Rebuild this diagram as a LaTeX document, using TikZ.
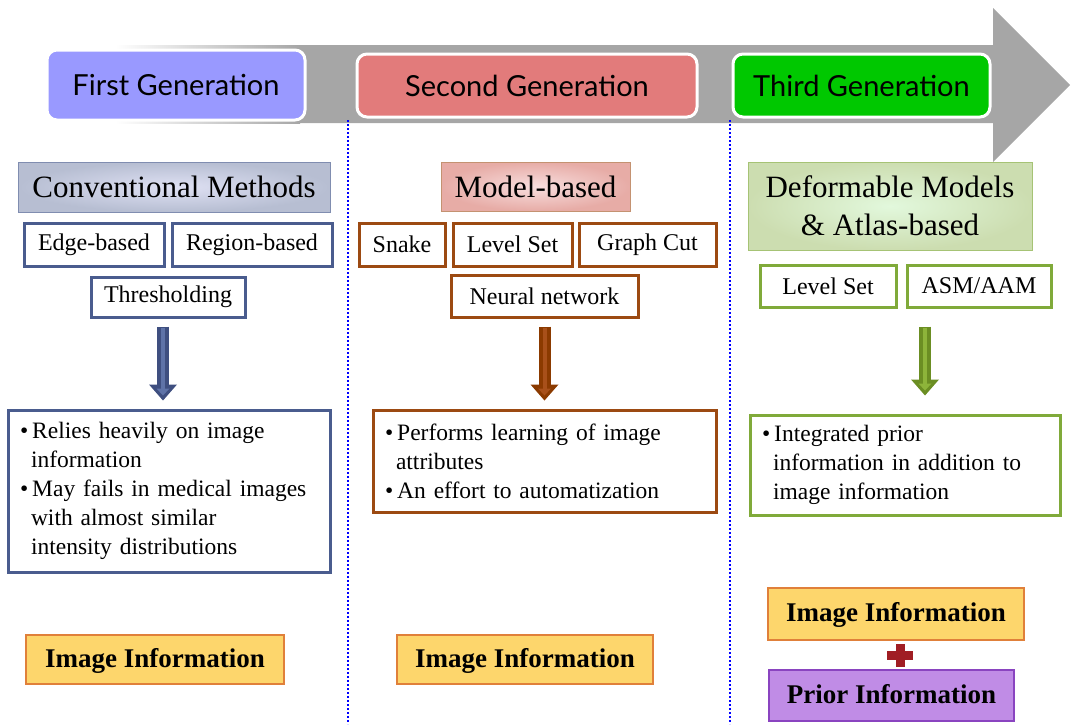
\documentclass[tikz,border=0pt]{standalone}
\usepackage{fontspec}
\setmainfont{Liberation Serif}
\newfontfamily\gensans{Lato}
\usetikzlibrary{arrows.meta, positioning}

\definecolor{arrowgray}{HTML}{A6A6A6}
\definecolor{genone}{HTML}{9999FF}
\definecolor{gentwo}{HTML}{E27B7B}
\definecolor{genthree}{HTML}{00C800}
\definecolor{blueline}{HTML}{4A5C8E}
\definecolor{bluedark}{HTML}{3F4F80}
\definecolor{bluelight}{HTML}{5F73A8}
\definecolor{brownline}{HTML}{9C4A12}
\definecolor{browndark}{HTML}{8B3A00}
\definecolor{brownlight}{HTML}{A8501A}
\definecolor{greenline}{HTML}{80AA3A}
\definecolor{greendark}{HTML}{6B8E23}
\definecolor{greenlight}{HTML}{8DB43A}
\definecolor{infofill}{HTML}{FDD66C}
\definecolor{infodraw}{HTML}{E0803A}
\definecolor{priorfill}{HTML}{C08CE6}
\definecolor{priordraw}{HTML}{8A44C0}
\definecolor{plusred}{HTML}{A01E24}

\begin{document}
\begin{tikzpicture}[
    x=1pt, y=-1pt,
    genbox/.style={rectangle, rounded corners=10pt, draw=white, line width=3pt, inner sep=0pt, font=\gensans\fontsize{29}{34}\selectfont},
    headbox/.style={rectangle, line width=0.8pt, align=center, inner sep=0pt, font=\fontsize{31}{38}\selectfont},
    methodbox/.style={rectangle, draw, fill=white, line width=3pt, minimum height=43pt, inner sep=0pt, font=\fontsize{24}{28}\selectfont},
    notebox/.style={rectangle, draw, fill=white, line width=3pt, align=left, inner xsep=12pt, inner ysep=0pt, font=\fontsize{23.5}{29}\selectfont},
    infobox/.style={rectangle, draw=infodraw, fill=infofill, line width=2.5pt, minimum height=49pt, inner sep=0pt, text depth=4pt, font=\bfseries\fontsize{27}{30}\selectfont},
    fatarrow/.style={line width=12pt, shorten <=8pt, shorten >=8pt, -{Triangle[width=28pt,length=16pt,line width=0pt]}},
    fatinner/.style={line width=4pt, shorten <=9pt, shorten >=13pt, -{Triangle[width=13pt,length=7pt,line width=0pt]}},
    sepline/.style={blue, line width=2pt, dash pattern=on 2pt off 2pt},
]
    \useasboundingbox (0,0) rectangle (1071,724);

    % time arrow
    \shade[left color=white, right color=arrowgray] (115,45) rectangle (300,123);
    \fill[arrowgray] (299,45) -- (993,45) -- (993,8) -- (1070,85) -- (993,162) -- (993,123) -- (299,123) -- cycle;

    % column separators
    \draw[sepline] (348,120) -- (348,724);
    \draw[sepline] (730,120) -- (730,724);

    \node (gen1) [genbox, fill=genone, minimum width=258pt, minimum height=70pt] at (176,85) {First Generation};
    \node (gen2) [genbox, fill=gentwo, minimum width=340pt, minimum height=63pt] at (527,85.5) {Second Generation};
    \node (gen3) [genbox, fill=genthree, minimum width=257pt, minimum height=63pt] at (861.5,85.5) {Third Generation};

    % first generation
    \node (conv) [headbox, draw=blueline!70, inner color=blue!6!white!90!blueline, outer color=blueline!40, minimum width=312pt, minimum height=50pt] at (174,187) {Conventional Methods};
    \node (edge) [methodbox, draw=blueline, minimum width=140pt] at (94,244.5) {Edge-based};
    \node (region) [methodbox, draw=blueline, minimum width=160pt, right=5pt of edge] {Region-based};
    \node (thresh) [methodbox, draw=blueline, minimum width=154pt, minimum height=40pt] at (168,297) {Thresholding};
    \node (desc1) [notebox, draw=blueline, text width=298pt, minimum height=162pt] at (169,491)
      {\textbullet\hspace{4pt}Relies heavily on image\\\hspace*{11pt}information\\
       \textbullet\hspace{4pt}May fails in medical images\\\hspace*{11pt}with almost similar\\\hspace*{11pt}intensity distributions};
    \node (img1) [infobox, minimum width=258pt] at (155,659.5) {Image Information};

    % second generation
    \node (model) [headbox, draw=brownline!60, inner color=gentwo!25, outer color=gentwo!55!white!90!brownline, minimum width=189pt, minimum height=49pt] at (535.5,186.5) {Model-based};
    \node (snake) [methodbox, draw=brownline, minimum width=86pt] at (402,244.5) {Snake};
    \node (level2) [methodbox, draw=brownline, minimum width=119pt, right=5pt of snake] {Level Set};
    \node (graph) [methodbox, draw=brownline, minimum width=137pt, right=4pt of level2] {Graph Cut};
    \node (neural) [methodbox, draw=brownline, minimum width=187pt, minimum height=42pt] at (544.5,296) {Neural network};
    \node (desc2) [notebox, draw=brownline, text width=319pt, minimum height=102pt] at (544.5,461)
      {\textbullet\hspace{4pt}Performs learning of image\\\hspace*{11pt}attributes\\
       \textbullet\hspace{4pt}An effort to automatization};
    \node (img2) [infobox, minimum width=256pt] at (525,659.5) {Image Information};

    % third generation
    \node (deform) [headbox, draw=greenline!70, inner color=green!8!white!92!greenline, outer color=greenline!40, minimum width=284pt, minimum height=88pt] at (890,206) {Deformable Models\\\& Atlas-based};
    \node (level3) [methodbox, draw=greenline, minimum width=136pt, minimum height=42pt] at (828,286) {Level Set};
    \node (asm) [methodbox, draw=greenline, minimum width=144pt, minimum height=42pt, right=8pt of level3] {ASM/AAM};
    \node (desc3) [notebox, draw=greenline, text width=286pt, minimum height=100pt] at (905,465)
      {\textbullet\hspace{4pt}Integrated prior\\\hspace*{11pt}information in addition to\\\hspace*{11pt}image information};
    \node (img3) [infobox, minimum width=256pt, minimum height=52pt] at (896,614) {Image Information};
    \node (prior) [infobox, draw=priordraw, fill=priorfill, minimum width=245pt, minimum height=51pt] at (891.5,695.5) {Prior Information};

    % plus sign
    \fill[plusred] (887,651) rectangle (913,660);
    \fill[plusred] (895.5,644) rectangle (904.5,667);

    % down arrows
    \draw [fatarrow, bluedark] ([xshift=-5pt]thresh.south) -- ([xshift=-5pt]thresh.south |- desc1.north);
    \draw [fatinner, bluelight] ([xshift=-5pt]thresh.south) -- ([xshift=-5pt]thresh.south |- desc1.north);
    \draw [fatarrow, browndark] (neural.south) -- (neural.south |- desc2.north);
    \draw [fatinner, brownlight] (neural.south) -- (neural.south |- desc2.north);
    \draw [fatarrow, greendark, shorten <=18pt, shorten >=18pt] ([xshift=20pt]desc3.north |- asm.south) -- ([xshift=20pt]desc3.north);
    \draw [fatinner, greenlight, shorten <=19pt, shorten >=23pt] ([xshift=20pt]desc3.north |- asm.south) -- ([xshift=20pt]desc3.north);

\end{tikzpicture}
\end{document}
